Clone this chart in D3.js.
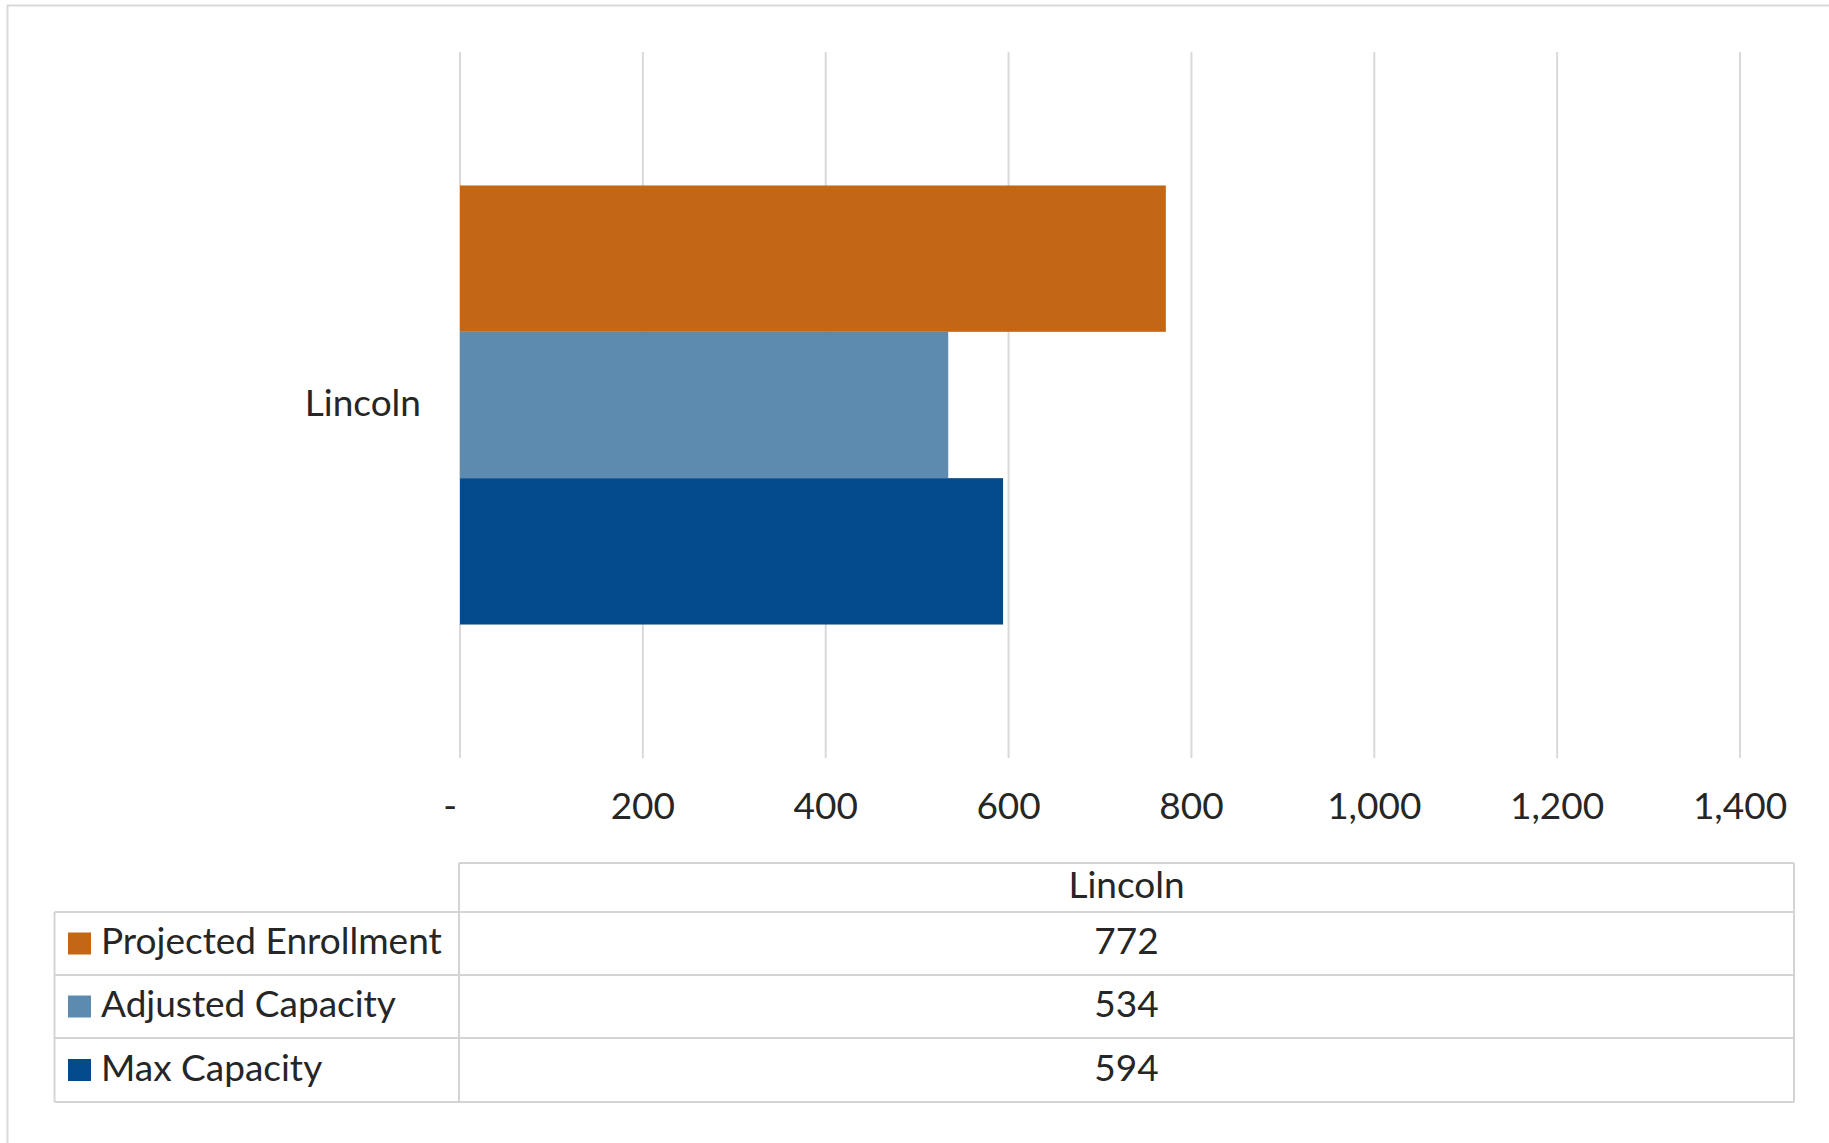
<!DOCTYPE html>
<html><head><meta charset="utf-8">
<script src="https://cdn.jsdelivr.net/npm/d3@7"></script>
<style>html,body{margin:0;padding:0;background:#fff;}svg{display:block;}</style>
</head><body>
<svg id="chart" width="1829" height="1143"></svg>
<script>
const categories = ["Lincoln"];
const seriesNames = ["Projected Enrollment", "Adjusted Capacity", "Max Capacity"];
const seriesValues = [772, 534, 594];
const seriesColors = ["#C26716", "#5D8AAF", "#024A8C"];
const tickValues = [0, 200, 400, 600, 800, 1000, 1200, 1400];
const tickLabels = ["-", "200", "400", "600", "800", "1,000", "1,200", "1,400"];

const FONT = "Lato, 'Open Sans', sans-serif";
const FS = 37;
const DY = -4;
const TXT = "#262626";
const svg = d3.select("#chart");

// outer chart border
svg.append("rect").attr("x", 7.5).attr("y", 5.5).attr("width", 1900).attr("height", 1200)
  .attr("fill", "none").attr("stroke", "#D9D9D9").attr("stroke-width", 2);

const x = d3.scaleLinear().domain([0, 1400]).range([460, 1740]);
const y = d3.scaleBand().domain(categories).range([52, 758]).paddingInner(0).paddingOuter(0.304);
const ys = d3.scaleBand().domain(seriesNames).range([0, y.bandwidth()]).padding(0);

// gridlines
svg.append("g").selectAll("line").data(tickValues).join("line")
  .attr("x1", d => x(d)).attr("x2", d => x(d)).attr("y1", 52).attr("y2", 758)
  .attr("stroke", "#D9D9D9").attr("stroke-width", 2);

// bars
const g = svg.append("g");
categories.forEach(cat => {
  g.selectAll("rect.b").data(seriesNames).join("rect").attr("class", "b")
    .attr("x", x(0)).attr("y", s => y(cat) + ys(s))
    .attr("width", (s, i) => x(seriesValues[i]) - x(0))
    .attr("height", ys.bandwidth())
    .attr("fill", (s, i) => seriesColors[i]);
  svg.append("text").attr("x", 421).attr("y", y(cat) + y.bandwidth() / 2 + DY)
    .attr("text-anchor", "end").attr("dominant-baseline", "central")
    .attr("font-family", FONT).attr("font-size", FS).attr("fill", TXT).text(cat);
});

// x tick labels
svg.append("g").selectAll("text").data(tickValues).join("text")
  .attr("x", (d, i) => i === 0 ? x(d) - 10 : x(d)).attr("y", 808 + DY)
  .attr("text-anchor", "middle").attr("dominant-baseline", "central")
  .attr("font-family", FONT).attr("font-size", FS).attr("fill", TXT)
  .text((d, i) => tickLabels[i]);

// data table
const tLeft = 54.5, tSep = 459, tRight = 1794;
const rowsY = [863, 912, 975, 1038, 1102];
const tc = "#D4D4D4";
const tg = svg.append("g").attr("stroke", tc).attr("stroke-width", 2).attr("fill", "none");
tg.append("line").attr("x1", tSep).attr("x2", tRight).attr("y1", rowsY[0]).attr("y2", rowsY[0]);
for (let i = 1; i < rowsY.length; i++) {
  tg.append("line").attr("x1", tLeft).attr("x2", tRight).attr("y1", rowsY[i]).attr("y2", rowsY[i]);
}
tg.append("line").attr("x1", tLeft).attr("x2", tLeft).attr("y1", rowsY[1]).attr("y2", rowsY[4]);
tg.append("line").attr("x1", tSep).attr("x2", tSep).attr("y1", rowsY[0]).attr("y2", rowsY[4]);
tg.append("line").attr("x1", tRight).attr("x2", tRight).attr("y1", rowsY[0]).attr("y2", rowsY[4]);

const colCenter = (tSep + tRight) / 2;
svg.append("text").attr("x", colCenter).attr("y", (rowsY[0] + rowsY[1]) / 2 + DY)
  .attr("text-anchor", "middle").attr("dominant-baseline", "central")
  .attr("font-family", FONT).attr("font-size", FS).attr("fill", TXT).text(categories[0]);

seriesNames.forEach((s, i) => {
  const cy = (rowsY[i + 1] + rowsY[i + 2]) / 2;
  svg.append("rect").attr("x", 68).attr("y", cy - 11).attr("width", 23).attr("height", 22)
    .attr("fill", seriesColors[i]);
  svg.append("text").attr("x", 101).attr("y", cy + DY)
    .attr("dominant-baseline", "central")
    .attr("font-family", FONT).attr("font-size", FS).attr("fill", TXT).text(s);
  svg.append("text").attr("x", colCenter).attr("y", cy + DY)
    .attr("text-anchor", "middle").attr("dominant-baseline", "central")
    .attr("font-family", FONT).attr("font-size", FS).attr("fill", TXT)
    .text(d3.format(",")(seriesValues[i]));
});
</script>
</body></html>
